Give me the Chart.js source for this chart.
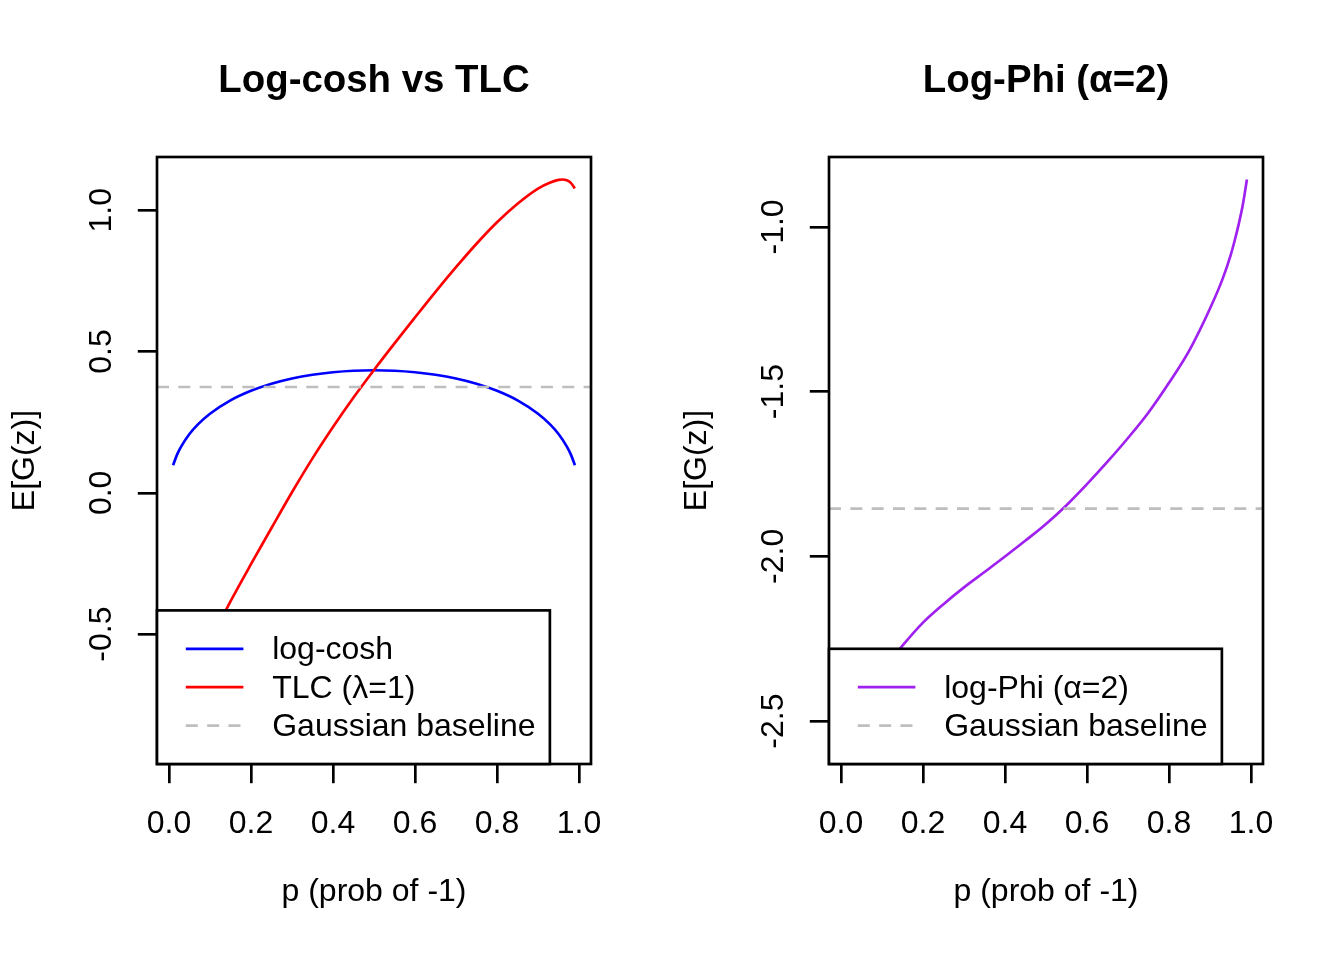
<!DOCTYPE html>
<html><head><meta charset="utf-8">
<script src="https://cdn.jsdelivr.net/npm/chart.js@4.4.1/dist/chart.umd.min.js"></script>
<style>
html,body{margin:0;padding:0;background:#fff;}
#wrap{width:1344px;height:960px;display:flex;}
canvas{display:block;}
</style>
</head><body>
<div id="wrap"><canvas id="c1" width="672" height="960"></canvas><canvas id="c2" width="672" height="960"></canvas></div>
<script>
// ---------- data ----------
const pLogcosh = [0.01,0.02,0.03,0.05,0.07,0.10,0.15,0.20,0.25,0.30,0.35,0.40,0.45,0.50,0.55,0.60,0.65,0.70,0.75,0.80,0.85,0.90,0.93,0.95,0.97,0.98,0.99];
const logcoshVals = [0.0976,0.1361,0.1647,0.2081,0.2413,0.2800,0.3273,0.3611,0.3860,0.4045,0.4178,0.4268,0.4321,0.4338,0.4321,0.4268,0.4178,0.4045,0.3860,0.3611,0.3273,0.2800,0.2413,0.2081,0.1647,0.1361,0.0976];
const pTLC = [0.01,0.02,0.03,0.05,0.07,0.10,0.15,0.20,0.25,0.30,0.35,0.40,0.45,0.50,0.55,0.60,0.65,0.70,0.75,0.80,0.85,0.90,0.93,0.95,0.96,0.97,0.98,0.99];
const tlcVals = [-0.880,-0.800,-0.755,-0.680,-0.615,-0.525,-0.384,-0.2525,-0.1245,0.002,0.122,0.233,0.3375,0.435,0.529,0.621,0.7115,0.7985,0.8815,0.9575,1.023,1.0767,1.098,1.1075,1.109,1.106,1.097,1.0775];
const pLogPhi = [0.01,0.02,0.03,0.05,0.07,0.10,0.15,0.20,0.25,0.30,0.35,0.40,0.45,0.50,0.55,0.60,0.65,0.70,0.75,0.80,0.85,0.90,0.93,0.95,0.96,0.97,0.98,0.99];
const logPhiVals = [-2.562,-2.520,-2.490,-2.440,-2.400,-2.350,-2.271,-2.201,-2.145,-2.094,-2.0475,-2.0005,-1.952,-1.9017,-1.8447,-1.7807,-1.7127,-1.6407,-1.5632,-1.4732,-1.3737,-1.2475,-1.160,-1.087,-1.042,-0.9915,-0.933,-0.856];
const gaussLeft = 0.3746;
const gaussRight = -1.855;
const xTicks = [0.0,0.2,0.4,0.6,0.8,1.0];
const yTicksLeft = [-0.5,0.0,0.5,1.0];
const yTicksRight = [-2.5,-2.0,-1.5,-1.0];
const titles = ["Log-cosh vs TLC", "Log-Phi (\u03B1=2)"];
const xLabel = "p (prob of -1)";
const yLabel = "E[G(z)]";
const legendLeft = ["log-cosh", "TLC (\u03BB=1)", "Gaussian baseline"];
const legendRight = ["log-Phi (\u03B1=2)", "Gaussian baseline"];

// ---------- styling ----------
const FONT = "'Liberation Sans', Arial, Helvetica, sans-serif";
const LW = 2.67;
const DASH = [12, 9.33];
const GRAY = '#BEBEBE';
Chart.defaults.font.family = FONT;
Chart.defaults.color = '#000';

function rRange(vals){
  const mn = Math.min(...vals), mx = Math.max(...vals);
  const d = (mx - mn) * 0.04;
  return [mn - d, mx + d];
}
function zip(xs, ys){ return xs.map((x,i)=>({x:x, y:ys[i]})); }

const xr = rRange([...pLogcosh, ...pTLC, ...pLogPhi]);

const framePlugin = {
  id: 'rFrame',
  afterDraw(chart){
    const {ctx, chartArea: a} = chart;
    ctx.save();
    ctx.strokeStyle = '#000'; ctx.lineWidth = LW;
    ctx.strokeRect(a.left, a.top, a.right - a.left, a.bottom - a.top);
    // legend (bottomleft, R style)
    const items = chart.options.plugins.rLegend.items;
    const fs = 32, xchar = 28.8, rowH = 38.4;
    ctx.font = fs + 'px ' + FONT;
    let maxW = 0;
    items.forEach(it => { maxW = Math.max(maxW, ctx.measureText(it.label).width); });
    const w = 4*xchar + maxW + xchar/2;
    const h = (items.length + 1) * rowH;
    const left = a.left, top = a.bottom - h;
    ctx.fillStyle = '#fff';
    ctx.fillRect(left, top, w, h);
    ctx.strokeRect(left, top, w, h);
    items.forEach((it, i) => {
      const y = top + (i+1)*rowH;
      ctx.beginPath();
      ctx.setLineDash(it.dash || []);
      ctx.strokeStyle = it.color;
      ctx.lineWidth = LW;
      ctx.moveTo(left + xchar, y);
      ctx.lineTo(left + 3*xchar, y);
      ctx.stroke();
      ctx.setLineDash([]);
      ctx.fillStyle = '#000';
      ctx.textAlign = 'left';
      ctx.textBaseline = 'middle';
      ctx.fillText(it.label, left + 4*xchar, y + 1.5);
    });
    ctx.restore();
  }
};

function makeChart(id, title, datasets, yr, yTicks, legendItems){
  return new Chart(document.getElementById(id), {
    type: 'line',
    data: { datasets },
    options: {
      responsive: false, animation: false, devicePixelRatio: 1,
      layout: { padding: { left: 0, right: 81, top: 0, bottom: 0 } },
      elements: { point: { radius: 0 }, line: { tension: 0 } },
      plugins: {
        legend: { display: false }, tooltip: { enabled: false },
        title: { display: true, fullSize: false, text: title, color: '#000',
          font: { size: 38.4, weight: 'bold', family: FONT, lineHeight: 1.2 },
          padding: { top: 58.66, bottom: 52.26 } },
        rLegend: { items: legendItems }
      },
      scales: {
        x: {
          type: 'linear', position: 'bottom', min: xr[0], max: xr[1],
          afterBuildTicks: s => { s.ticks = xTicks.map(v => ({value: v})); },
          afterFit: s => { s.height = 196; },
          border: { display: false },
          grid: { display: true, drawOnChartArea: false, drawTicks: true, tickLength: 19.2, color: '#000', lineWidth: LW },
          ticks: { autoSkip: false, maxRotation: 0, minRotation: 0, padding: 21.7, color: '#000',
            font: { size: 32, family: FONT }, callback: v => Number(v).toFixed(1) },
          title: { display: true, text: xLabel, color: '#000', font: { size: 32, family: FONT }, padding: { top: 0, bottom: 48.4 } }
        },
        y: {
          type: 'linear', position: 'left', min: yr[0], max: yr[1],
          afterBuildTicks: s => { s.ticks = yTicks.map(v => ({value: v})); },
          afterFit: s => { s.width = 157; },
          border: { display: false },
          grid: { display: true, drawOnChartArea: false, drawTicks: true, tickLength: 19.2, color: '#000', lineWidth: LW },
          ticks: { autoSkip: false, minRotation: 90, maxRotation: 90, crossAlign: 'center', padding: 8, color: '#000',
            font: { size: 32, family: FONT }, callback: v => Number(v).toFixed(1) },
          title: { display: true, text: yLabel, color: '#000', font: { size: 32, family: FONT }, padding: { top: 6.2, bottom: 0 } }
        }
      }
    },
    plugins: [framePlugin]
  });
}

const yrLeft = rRange([...logcoshVals, ...tlcVals]);
const yrRight = rRange([...logPhiVals]);

makeChart('c1', titles[0], [
  { label: legendLeft[2], data: [{x: xr[0], y: gaussLeft}, {x: xr[1], y: gaussLeft}], borderColor: GRAY, borderWidth: LW, borderDash: DASH, order: 0 },
  { label: legendLeft[1], data: zip(pTLC, tlcVals), borderColor: '#FF0000', borderWidth: LW, cubicInterpolationMode: 'monotone', order: 1 },
  { label: legendLeft[0], data: zip(pLogcosh, logcoshVals), borderColor: '#0000FF', borderWidth: LW, cubicInterpolationMode: 'monotone', order: 2 }
], yrLeft, yTicksLeft, [
  { label: legendLeft[0], color: '#0000FF' },
  { label: legendLeft[1], color: '#FF0000' },
  { label: legendLeft[2], color: GRAY, dash: DASH }
]);

makeChart('c2', titles[1], [
  { label: legendRight[1], data: [{x: xr[0], y: gaussRight}, {x: xr[1], y: gaussRight}], borderColor: GRAY, borderWidth: LW, borderDash: DASH, order: 0 },
  { label: legendRight[0], data: zip(pLogPhi, logPhiVals), borderColor: '#A020F0', borderWidth: LW, cubicInterpolationMode: 'monotone', order: 1 }
], yrRight, yTicksRight, [
  { label: legendRight[0], color: '#A020F0' },
  { label: legendRight[1], color: GRAY, dash: DASH }
]);
</script>
</body></html>
